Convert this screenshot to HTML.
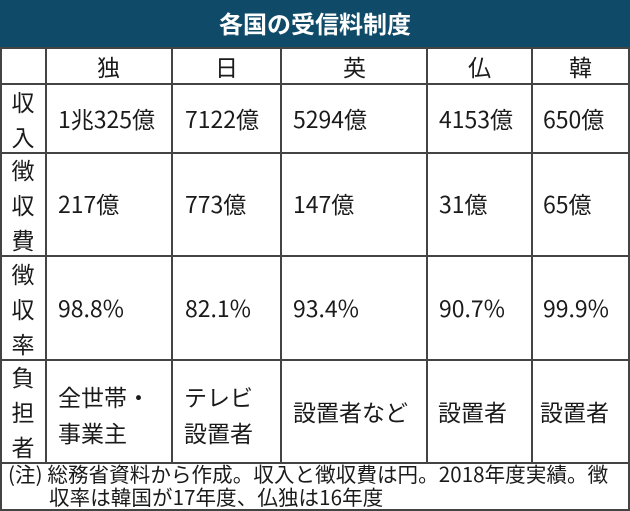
<!DOCTYPE html>
<html><head><meta charset="utf-8"><style>
body{margin:0;width:630px;height:511px;background:#fff;position:relative;overflow:hidden;font-family:"Noto Sans CJK JP","Liberation Sans",sans-serif;color:#1a1a1a}
.t{position:absolute;left:0;top:0;width:630px;height:47px;background:#0f4a68;color:#fff;font-size:24px;font-weight:bold;text-align:center;line-height:45px}
.h{position:absolute;height:2px;background:#444;left:0;width:630px}
.v{position:absolute;width:2px;background:#444;top:47px}
.c{position:absolute;font-size:23px;white-space:nowrap;line-height:30px}
.l{position:absolute;font-size:23px;line-height:35px;width:46px;text-align:center}
.n{position:absolute;left:8px;top:462px;font-size:20.5px;line-height:23px;white-space:nowrap;letter-spacing:0.1px}
</style></head><body>
<div class="t">各国の受信料制度</div>
<div class="h" style="top:47px"></div>
<div class="h" style="top:83px"></div>
<div class="h" style="top:152px"></div>
<div class="h" style="top:255px"></div>
<div class="h" style="top:359px"></div>
<div class="h" style="top:462px"></div>
<div class="h" style="top:509px"></div>
<div class="v" style="left:0;height:464px"></div>
<div class="v" style="left:628px;height:464px"></div>
<div class="v" style="left:45px;height:417px"></div>
<div class="v" style="left:171px;height:417px"></div>
<div class="v" style="left:280px;height:417px"></div>
<div class="v" style="left:426px;height:417px"></div>
<div class="v" style="left:531px;height:417px"></div>
<div class="c" style="left:97px;top:51px">独</div>
<div class="c" style="left:215px;top:51px">日</div>
<div class="c" style="left:343px;top:51px">英</div>
<div class="c" style="left:468px;top:51px">仏</div>
<div class="c" style="left:569px;top:51px">韓</div>
<div class="l" style="left:0;top:84px">収<br>入</div>
<div class="l" style="left:0;top:152px">徴<br>収<br>費</div>
<div class="l" style="left:0;top:256px">徴<br>収<br>率</div>
<div class="l" style="left:0;top:359px">負<br>担<br>者</div>
<div class="c" style="left:58px;top:103px">1兆325億</div>
<div class="c" style="left:185px;top:103px">7122億</div>
<div class="c" style="left:293px;top:103px">5294億</div>
<div class="c" style="left:439px;top:103px">4153億</div>
<div class="c" style="left:543px;top:103px">650億</div>
<div class="c" style="left:58px;top:188px">217億</div>
<div class="c" style="left:185px;top:188px">773億</div>
<div class="c" style="left:293px;top:188px">147億</div>
<div class="c" style="left:439px;top:188px">31億</div>
<div class="c" style="left:543px;top:188px">65億</div>
<div class="c" style="left:58px;top:292px">98.8%</div>
<div class="c" style="left:185px;top:292px">82.1%</div>
<div class="c" style="left:293px;top:292px">93.4%</div>
<div class="c" style="left:439px;top:292px">90.7%</div>
<div class="c" style="left:543px;top:292px">99.9%</div>
<div class="c" style="left:58px;top:378px;line-height:36px">全世帯・<br>事業主</div>
<div class="c" style="left:184px;top:378px;line-height:36px">テレビ<br>設置者</div>
<div class="c" style="left:293px;top:396px">設置者など</div>
<div class="c" style="left:438px;top:396px">設置者</div>
<div class="c" style="left:540px;top:396px">設置者</div>
<div class="n">(注) 総務省資料から作成。収入と徴収費は円。2018年度実績。徴<br><span style="padding-left:41px">収率は韓国が17年度、仏独は16年度</span></div>
</body></html>
